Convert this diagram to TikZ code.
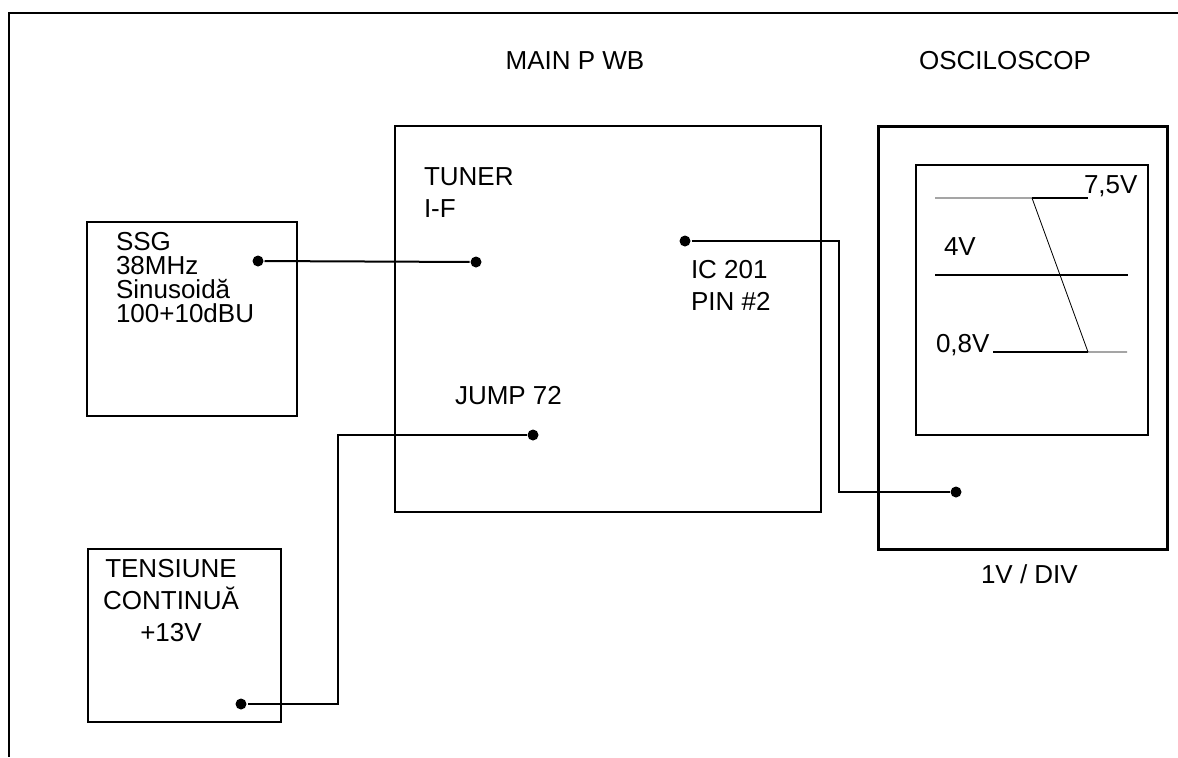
\documentclass[tikz,border=0pt]{standalone}
\usepackage{fontspec}
\setmainfont{Liberation Sans}
\usetikzlibrary{positioning}

\begin{document}
\begin{tikzpicture}[x=0.5pt, y=-0.5pt, line width=1pt,
  font=\fontsize{13}{16}\selectfont,
  b/.style={draw, line width=1.2pt, inner sep=0pt, outer sep=0pt, anchor=north west},
  t/.style={anchor=base west, inner sep=0pt, align=left},
  d/.style={circle, fill, inner sep=0pt, minimum size=5.5pt},
  lo/.style={line width=0.4pt},
  hi/.style={line width=1.4pt}]
\useasboundingbox (0,0) rectangle (1178,757);
\draw (1178,13) -- (9,13) -- (9,757);
% titles
\node[anchor=base, inner sep=0pt] (tmain) at (575,69) {MAIN P WB};
\node[anchor=base, inner sep=0pt] (tosc) at (1005,69) {OSCILOSCOP};
% boxes
\node[b, minimum width=105pt, minimum height=97pt] (ssg) at (87,222) {};
\node[b, minimum width=96.5pt, minimum height=86.5pt] (tens) at (88,549) {};
\node[b, minimum width=213pt, minimum height=193pt] (main) at (395,126) {};
\node[b, line width=1.5pt, minimum width=144.5pt, minimum height=211.5pt] (osc) at (878,126) {};
\node[b, minimum width=116pt, minimum height=135pt] (scr) at (916,165) {};
% labels (base = last line)
\node[t, font=\fontsize{13}{12}\selectfont] (lssg) at (115,322) {SSG\\38MHz\\Sinusoidă\\100+10dBU};
\node[anchor=base, inner sep=0pt, align=center] (ltens) at (171,641) {TENSIUNE\\CONTINUĂ\\+13V};
\node[t] (ltun) at (423,217) {TUNER\\I-F};
\node[t] (lic) at (690,310) {IC 201\\PIN \#2};
\node[t] (ljmp) at (454,404) {JUMP 72};
\node[t] (ldiv) at (980,583) {1V / DIV};
\node[t] (v75) at (1083,193) {7,5V};
\node[t] (v4) at (943,255) {4V};
\node[t] (v08) at (935,352) {0,8V};
% contacts
\node[d] (pssg) at (258,261) {};
\node[d] (ptun) at (476,262) {};
\node[d] (pic) at (685,241) {};
\node[d] (posc) at (956,492) {};
\node[d] (pjmp) at (533,435) {};
\node[d] (ptens) at (241,704) {};
% wires
\draw (pssg) -- (ptun);
\draw (pic) -- ++(154,0) |- (posc);
\draw (pjmp) -- ++(-195,0) |- (ptens);
% traces on screen
\draw[lo] (935,198) -- (1032,198) -- (1088,352) -- (1127,352);
\draw[hi] (1032,198) -- (1088,198);
\draw[hi] (935,275) -- (1128,275);
\draw[hi] (993,352) -- (1088,352);
\end{tikzpicture}
\end{document}
